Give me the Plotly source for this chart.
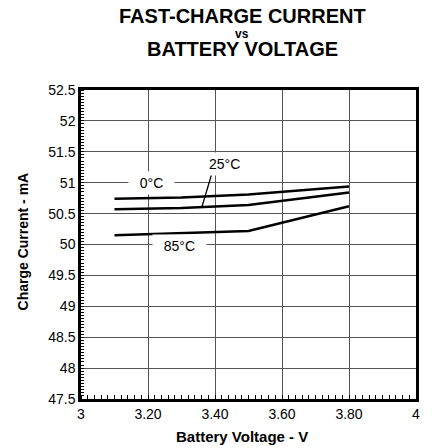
import plotly.graph_objects as go

# ---- data ----
voltage = [3.1, 3.3, 3.5, 3.8]
current_0c = [50.74, 50.76, 50.81, 50.94]
current_25c = [50.57, 50.59, 50.64, 50.84]
current_85c = [50.15, 50.18, 50.22, 50.62]

x_tickvals = [3.0, 3.2, 3.4, 3.6, 3.8, 4.0]
x_ticktext = ["3", "3.20", "3.40", "3.60", "3.80", "4"]
y_tickvals = [47.5, 48, 48.5, 49, 49.5, 50, 50.5, 51, 51.5, 52, 52.5]
y_ticktext = ["47.5", "48", "48.5", "49", "49.5", "50", "50.5", "51", "51.5", "52", "52.5"]

FONT = "Liberation Sans, Arial, sans-serif"

fig = go.Figure()
for ys in (current_0c, current_25c, current_85c):
    fig.add_trace(go.Scatter(x=voltage, y=ys, mode="lines",
                             line=dict(color="black", width=2.5),
                             showlegend=False, hoverinfo="skip"))

# curve labels
NB = "&nbsp;"
labels = [
    dict(text=NB * 2 + "0°C" + NB * 2, x=3.211, y=51.0),
    dict(text=NB * 2 + "85°C" + NB * 2, x=3.293, y=49.97),
    dict(text="25°C", x=3.427, y=51.30),
]
for lb in labels:
    fig.add_annotation(x=lb["x"], y=lb["y"], text=lb["text"], showarrow=False,
                       font=dict(family=FONT, size=14, color="black"),
                       bgcolor="white", borderpad=3, xanchor="center", yanchor="middle")

# leader line for 25°C
fig.add_shape(type="line", x0=3.394, y0=51.21, x1=3.361, y1=50.61,
              line=dict(color="black", width=1.3), layer="above")

# title lines
fig.add_annotation(x=0.4806, y=1.240, xref="paper", yref="paper", text="<b>FAST-CHARGE CURRENT</b>",
                   showarrow=False, font=dict(family=FONT, size=20, color="black"),
                   xanchor="center", yanchor="middle")
fig.add_annotation(x=0.4806, y=1.180, xref="paper", yref="paper", text="<b>vs</b>",
                   showarrow=False, font=dict(family=FONT, size=12, color="black"),
                   xanchor="center", yanchor="middle")
fig.add_annotation(x=0.4806, y=1.134, xref="paper", yref="paper", text="<b>BATTERY VOLTAGE</b>",
                   showarrow=False, font=dict(family=FONT, size=20, color="black"),
                   xanchor="center", yanchor="middle")

# axis titles
fig.add_annotation(x=0.4806, y=-0.12, xref="paper", yref="paper", text="<b>Battery Voltage - V</b>",
                   showarrow=False, font=dict(family=FONT, size=15, color="black"),
                   xanchor="center", yanchor="middle")
fig.add_annotation(x=-0.173, y=0.51, xref="paper", yref="paper", text="<b>Charge Current - mA</b>",
                   showarrow=False, font=dict(family=FONT, size=14, color="black"),
                   textangle=-90, xanchor="center", yanchor="middle")

# page body has an 8px margin, so the figure is sized/offset to compensate
fig.update_layout(
    width=431, height=440,
    margin=dict(l=73, r=23, t=82, b=49),
    paper_bgcolor="white", plot_bgcolor="white",
    font=dict(family=FONT, color="black"),
    xaxis=dict(range=[3, 4], tickvals=x_tickvals, ticktext=x_ticktext, automargin=False,
               showgrid=True, gridcolor="#555555", gridwidth=1,
               showline=True, linecolor="black", linewidth=2.5, mirror=True,
               ticks="", tickfont=dict(size=14), zeroline=False,
               minor=dict(dtick=0.02, tick0=3, ticks="inside", ticklen=4, tickcolor="black", showgrid=False)),
    yaxis=dict(range=[47.5, 52.5], tickvals=y_tickvals, ticktext=y_ticktext, automargin=False,
               showgrid=True, gridcolor="#555555", gridwidth=1,
               showline=True, linecolor="black", linewidth=2.5, mirror=True,
               ticks="", tickfont=dict(size=14), zeroline=False,
               minor=dict(dtick=0.05, tick0=47.5, ticks="inside", ticklen=3, tickcolor="black", showgrid=False)),
)

fig.write_html("out.html", config={"displayModeBar": False})
